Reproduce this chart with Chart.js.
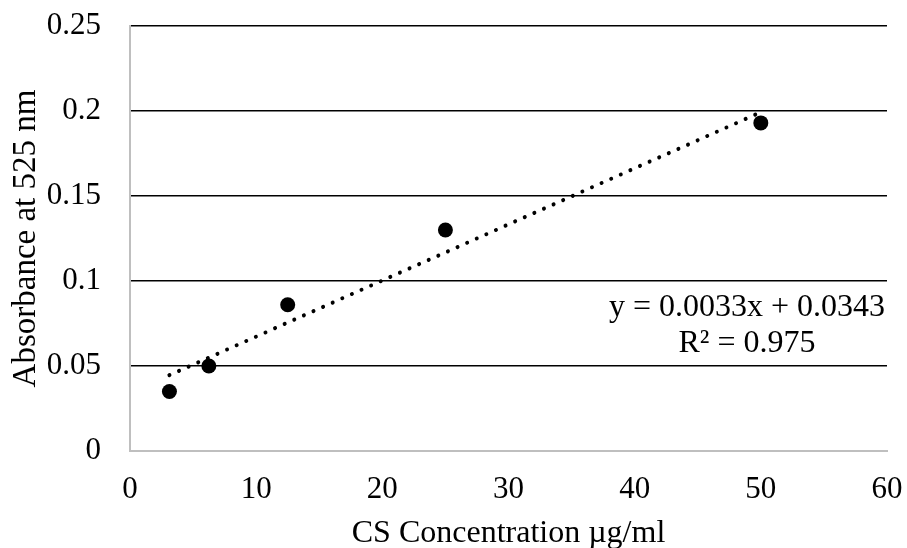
<!DOCTYPE html>
<html>
<head>
<meta charset="utf-8">
<script src="https://cdn.jsdelivr.net/npm/chart.js@4"></script>
<style>
  html, body { margin: 0; padding: 0; background: #fff; }
  #wrap { width: 907px; height: 548px; }
</style>
</head>
<body>
<div id="wrap"><canvas id="c" width="907" height="548"></canvas></div>
<script>
// ---- data ----
const concentrations = [3.125, 6.25, 12.5, 25, 50];
const absorbance = [0.035, 0.05, 0.086, 0.13, 0.193];
const xTickValues = [0, 10, 20, 30, 40, 50, 60];
const yTickValues = [0, 0.05, 0.1, 0.15, 0.2, 0.25];
const yTickLabels = ['0', '0.05', '0.1', '0.15', '0.2', '0.25'];
const trendSlope = 0.0033;
const trendIntercept = 0.0343;
const equationLines = ['y = 0.0033x + 0.0343', 'R² = 0.975'];
const xTitle = 'CS Concentration µg/ml';
const yTitle = 'Absorbance at 525 nm';

const FONT = "'Liberation Serif', 'Times New Roman', serif";

const points = concentrations.map((x, i) => ({ x: x, y: absorbance[i] }));
const xMin = Math.min(...concentrations), xMax = Math.max(...concentrations);
const trendPoints = [xMin, xMax].map(x => ({ x: x, y: trendSlope * x + trendIntercept }));

const equationPlugin = {
  id: 'equation',
  afterDatasetsDraw(chart) {
    const { ctx, scales } = chart;
    const cx = scales.x.getPixelForValue(48.9);
    const ys = [0.0792, 0.0580].map(v => scales.y.getPixelForValue(v));
    ctx.save();
    ctx.font = '32px ' + FONT;
    ctx.fillStyle = '#000';
    ctx.textAlign = 'center';
    ctx.textBaseline = 'alphabetic';
    equationLines.forEach((t, i) => ctx.fillText(t, cx, ys[i]));
    ctx.restore();
  }
};

new Chart(document.getElementById('c'), {
  type: 'scatter',
  data: {
    datasets: [
      {
        type: 'line',
        data: trendPoints,
        borderColor: '#000',
        borderWidth: 4,
        borderDash: [0.01, 10.5],
        borderCapStyle: 'round',
        pointRadius: 0,
        fill: false
      },
      {
        data: points,
        backgroundColor: '#000',
        borderWidth: 0,
        pointRadius: 7.5,
        pointStyle: 'circle'
      }
    ]
  },
  options: {
    responsive: false,
    animation: false,
    layout: { padding: { top: 26, right: 20, left: 0, bottom: 0 } },
    plugins: { legend: { display: false }, tooltip: { enabled: false } },
    scales: {
      x: {
        type: 'linear',
        min: 0, max: 60,
        afterFit: s => { s.height = 97; s.paddingLeft = 0; s.paddingRight = 0; },
        afterBuildTicks: s => { s.ticks = xTickValues.map(v => ({ value: v })); },
        grid: { display: false, drawTicks: false },
        border: { display: true, color: '#bfbfbf', width: 2 },
        ticks: { color: '#000', padding: 20, font: { family: FONT, size: 31 }, maxRotation: 0 },
        title: { display: true, text: xTitle, color: '#000', font: { family: FONT, size: 32 }, padding: { top: 0, bottom: -5 } }
      },
      y: {
        type: 'linear',
        min: 0, max: 0.25,
        afterFit: s => { s.width = 130; s.paddingTop = 0; s.paddingBottom = 0; },
        afterBuildTicks: s => { s.ticks = yTickValues.map(v => ({ value: v })); },
        grid: {
          drawTicks: false,
          color: ctx => (ctx.tick && ctx.tick.value === 0) ? 'rgba(0,0,0,0)' : '#000',
          lineWidth: 1.6
        },
        border: { display: true, color: '#bfbfbf', width: 2 },
        ticks: {
          color: '#000', padding: 29, font: { family: FONT, size: 31 },
          callback: (v, i) => yTickLabels[yTickValues.indexOf(v)] ?? String(v)
        },
        title: { display: true, text: yTitle, color: '#000', font: { family: FONT, size: 33 }, padding: { top: 7, bottom: 0 } }
      }
    }
  },
  plugins: [equationPlugin]
});
</script>
</body>
</html>
